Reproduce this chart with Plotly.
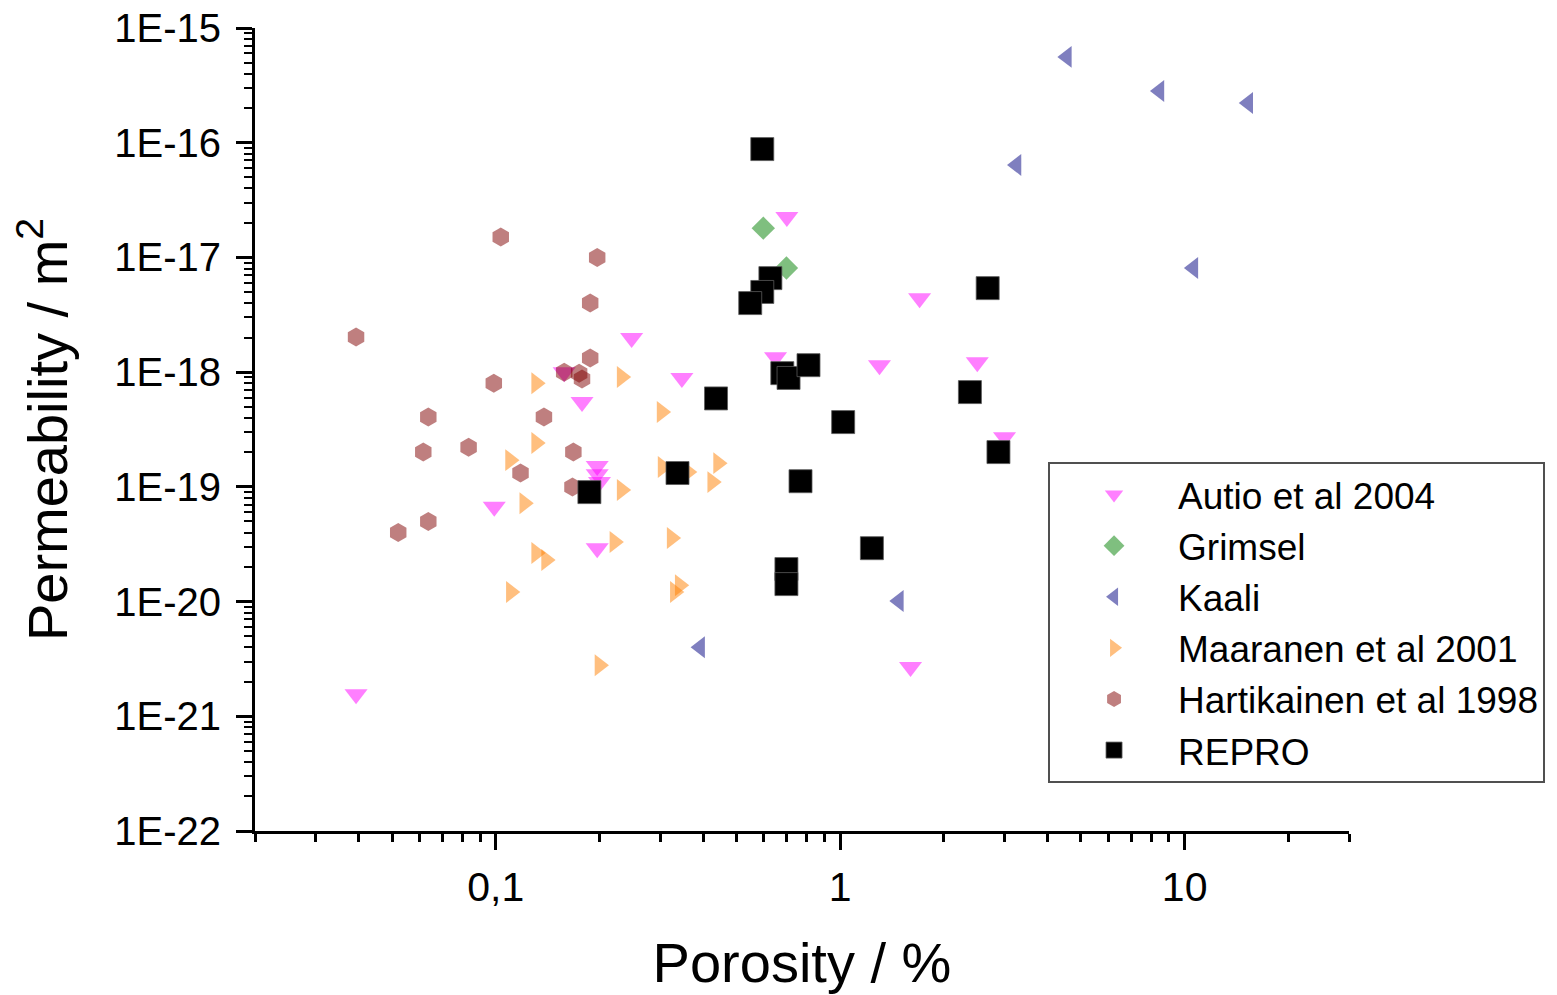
import plotly.graph_objects as go

# ---------------- data (porosity %, permeability m^2) ----------------
autio_x = [0.70, 1.70, 0.248, 0.649, 1.30, 2.50, 0.158, 0.347, 0.178, 3.0,
           0.197, 0.197, 0.20, 0.099, 0.197, 1.60, 0.0393]
autio_y = [2.25e-17, 4.4e-18, 1.98e-18, 1.35e-18, 1.15e-18, 1.22e-18, 1.0e-18, 8.9e-19, 5.5e-19, 2.7e-19,
           1.52e-19, 1.29e-19, 1.10e-19, 6.7e-20, 2.92e-20, 2.69e-21, 1.56e-21]

grimsel_x = [0.598, 0.698]
grimsel_y = [1.80e-17, 8.1e-18]

kaali_x = [4.55, 8.45, 15.3, 3.25, 10.6, 1.48, 0.392]
kaali_y = [5.6e-16, 2.82e-16, 2.22e-16, 6.4e-17, 8.1e-18, 1.01e-20, 4.0e-21]

maaranen_x = [0.131, 0.232, 0.303, 0.131, 0.110, 0.305, 0.361, 0.442, 0.425, 0.232,
              0.121, 0.221, 0.324, 0.131, 0.140, 0.1106, 0.342, 0.331, 0.20]
maaranen_y = [8.0e-19, 9.06e-19, 4.49e-19, 2.41e-19, 1.71e-19, 1.49e-19, 1.35e-19, 1.61e-19, 1.10e-19, 9.4e-20,
              7.2e-20, 3.3e-20, 3.58e-20, 2.65e-20, 2.30e-20, 1.21e-20, 1.39e-20, 1.21e-20, 2.79e-21]

hart_x = [0.1034, 0.197, 0.188, 0.0393, 0.188, 0.158, 0.1746, 0.178, 0.0987, 0.0637,
          0.138, 0.0616, 0.0834, 0.168, 0.118, 0.167, 0.0637, 0.0521]
hart_y = [1.51e-17, 1.0e-17, 4.0e-18, 2.02e-18, 1.33e-18, 1.0e-18, 9.8e-19, 8.7e-19, 8.0e-19, 4.06e-19,
          4.06e-19, 2.01e-19, 2.22e-19, 2.01e-19, 1.32e-19, 9.96e-20, 5.0e-20, 4.0e-20]

repro_x = [0.594, 0.627, 0.594, 0.548, 2.68, 0.679, 0.708, 0.809, 0.436, 2.38,
           1.02, 2.88, 0.337, 0.767, 0.187, 1.236, 0.698, 0.698]
repro_y = [8.8e-17, 6.6e-18, 5.0e-18, 4.0e-18, 5.4e-18, 9.8e-19, 8.9e-19, 1.15e-18, 5.9e-19, 6.7e-19,
           3.67e-19, 2.01e-19, 1.32e-19, 1.12e-19, 9.0e-20, 2.92e-20, 1.92e-20, 1.42e-20]

y_tickvals = [1e-15, 1e-16, 1e-17, 1e-18, 1e-19, 1e-20, 1e-21, 1e-22]
y_ticktext = ["1E-15", "1E-16", "1E-17", "1E-18", "1E-19", "1E-20", "1E-21", "1E-22"]
x_tickvals = [0.1, 1, 10]
x_ticktext = ["0,1", "1", "10"]

# ---------------- figure ----------------
FONT = "Liberation Sans, Arial, sans-serif"

series = [
    ("Autio et al 2004", autio_x, autio_y, "triangle-down", "rgba(255,0,255,0.5)", 20),
    ("Grimsel", grimsel_x, grimsel_y, "diamond", "rgba(0,128,0,0.5)", 18),
    ("Kaali", kaali_x, kaali_y, "triangle-left", "rgba(0,0,128,0.5)", 19),
    ("Maaranen et al 2001", maaranen_x, maaranen_y, "triangle-right", "rgba(255,128,0,0.5)", 19),
    ("Hartikainen et al 1998", hart_x, hart_y, "hexagon", "rgba(128,0,0,0.5)", 19),
    ("REPRO", repro_x, repro_y, "square", "rgb(0,0,0)", 23),
]

fig = go.Figure()
for name, xs, ys, sym, col, sz in series:
    fig.add_trace(go.Scatter(
        x=xs, y=ys, mode="markers", name=name,
        marker=dict(symbol=sym, color=col, size=sz,
                    line=dict(width=0.8 if name == "REPRO" else 0, color="rgb(90,90,90)")),
    ))

x_minor = [k * 10.0 ** e for e in (-2, -1, 0, 1) for k in range(2, 10) if 0.02 <= k * 10.0 ** e <= 30]
y_minor = [k * 10.0 ** e for e in range(-22, -15) for k in range(2, 10)]

# the page places the figure 8px from the top-left corner, so the figure is 8px smaller
fig.update_layout(
    width=1549, height=987,
    margin=dict(l=247, r=208, t=20, b=164),
    paper_bgcolor="white", plot_bgcolor="white",
    font=dict(family=FONT, color="black", size=40),
    showlegend=True,
    legend=dict(
        x=0.7249, y=0.4595, xanchor="left", yanchor="top",
        bordercolor="rgb(80,80,80)", borderwidth=2, bgcolor="white",
        font=dict(family=FONT, size=37, color="black"),
        itemwidth=118, tracegroupgap=0,
    ),
    xaxis=dict(
        type="log", range=[-1.69897, 1.47712], automargin=False,
        showgrid=False, zeroline=False,
        showline=True, linecolor="black", linewidth=3,
        ticks="outside", ticklen=16, tickwidth=3, tickcolor="black",
        tickmode="array", tickvals=x_tickvals, ticktext=x_ticktext,
        tickfont=dict(family=FONT, size=41, color="black"),
        ticklabelstandoff=2, ticklabeloverflow="allow",
        minor=dict(ticks="outside", ticklen=8, tickwidth=3, tickcolor="black",
                   tickmode="array", tickvals=x_minor, showgrid=False),
        title=dict(text="Porosity / %", font=dict(family=FONT, size=56, color="black"), standoff=34),
    ),
    yaxis=dict(
        type="log", range=[-22, -15], automargin=False,
        showgrid=False, zeroline=False,
        showline=True, linecolor="black", linewidth=3,
        ticks="outside", ticklen=16, tickwidth=3, tickcolor="black",
        tickmode="array", tickvals=y_tickvals, ticktext=y_ticktext,
        tickfont=dict(family=FONT, size=40, color="black"),
        ticklabelstandoff=7, ticklabeloverflow="allow",
        minor=dict(ticks="outside", ticklen=8, tickwidth=2, tickcolor="black",
                   tickmode="array", tickvals=y_minor, showgrid=False),
        title=dict(text="Permeability / m<sup>2</sup>", font=dict(family=FONT, size=56, color="black"), standoff=30),
    ),
)

fig.write_html("out.html")
